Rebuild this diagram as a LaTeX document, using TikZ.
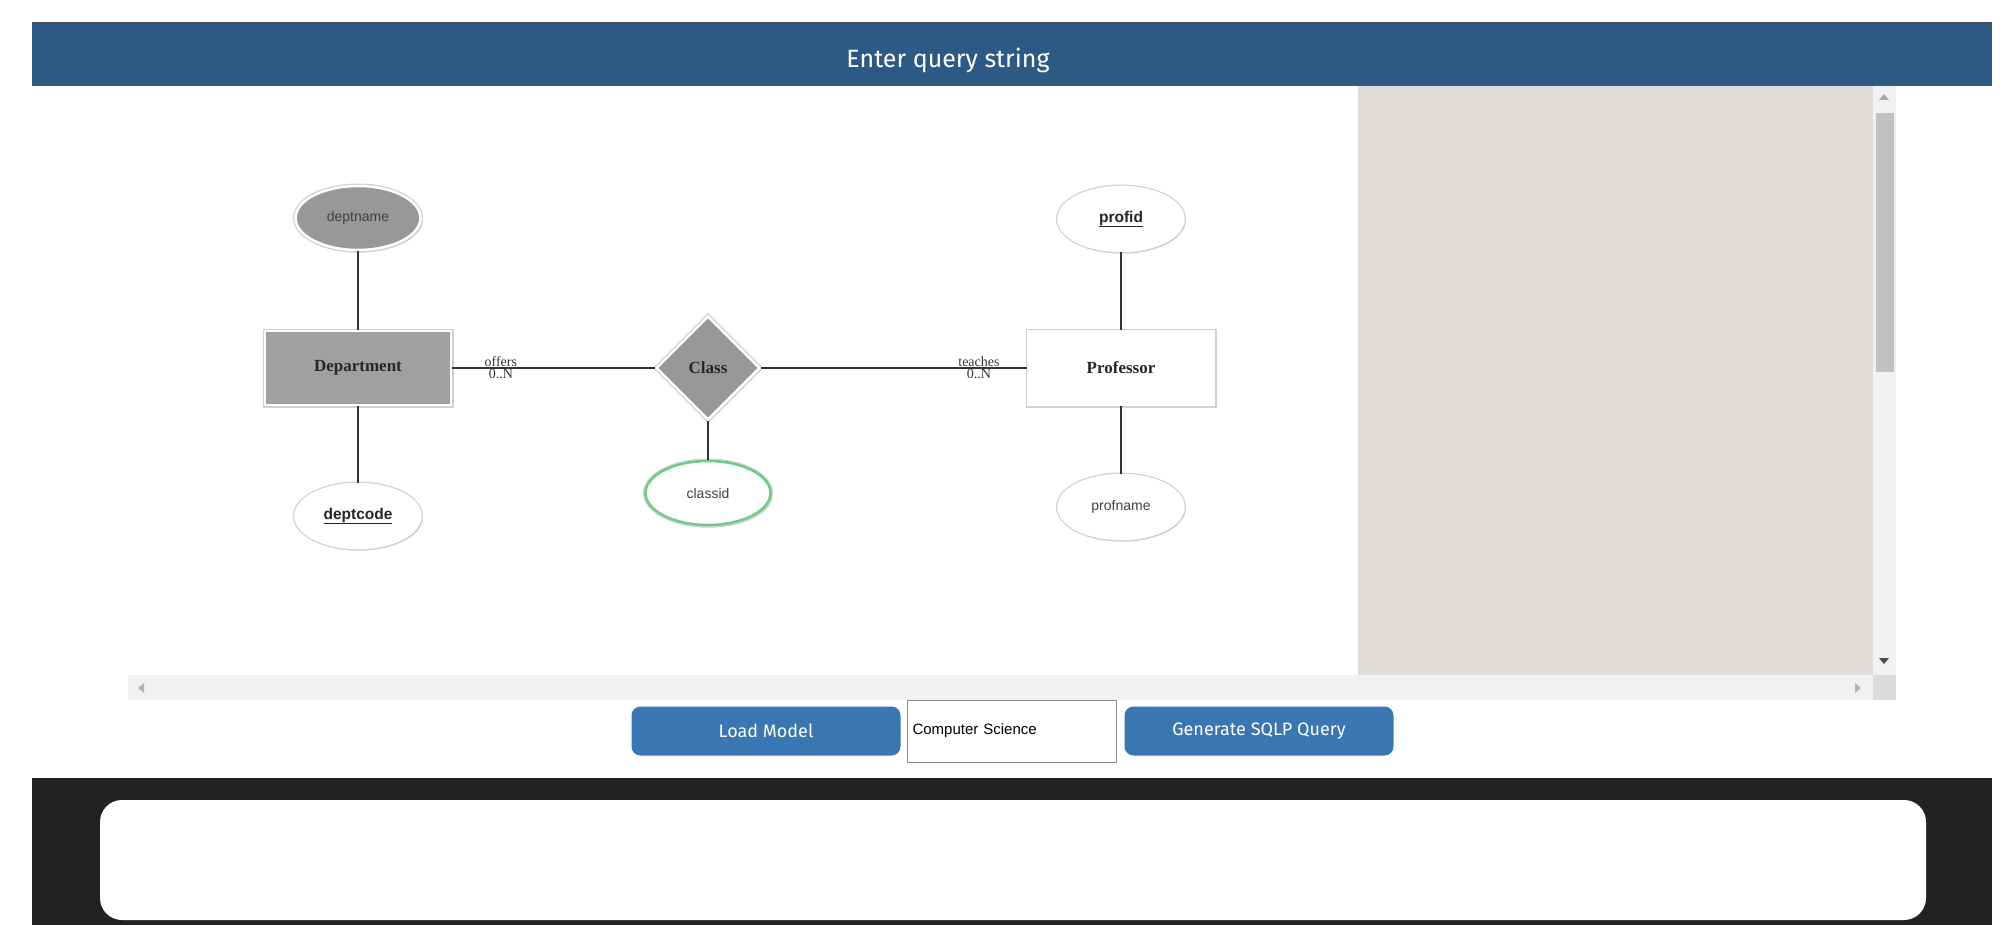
\documentclass[tikz,border=0pt]{standalone}
\usepackage{fontspec}
\setmainfont{Liberation Serif}
\setsansfont{Liberation Sans}
\newfontfamily\uifont{Fira Sans}
\usetikzlibrary{shapes.geometric,shadows}

\definecolor{headblue}{RGB}{44,90,132}
\definecolor{btnblue}{RGB}{58,118,178}
\definecolor{panelgray}{RGB}{223,220,217}
\definecolor{trackgray}{RGB}{241,241,241}
\definecolor{thumbgray}{RGB}{193,193,193}
\definecolor{footdark}{RGB}{34,34,34}
\definecolor{entgray}{RGB}{160,160,160}
\definecolor{attrgray}{RGB}{152,152,152}
\definecolor{keygreen}{RGB}{110,205,130}

\begin{document}
\begin{tikzpicture}[x=1pt,y=-1pt,
    shade/.style={general shadow={fill=black!25,shadow scale=1.02,shadow xshift=.8pt,shadow yshift=-1.8pt},
        preaction={draw=black!18,line width=5pt}},
    entity/.style={rectangle,draw=white,line width=2.5pt,shade,minimum width=186pt,minimum height=74pt,
        font=\fontsize{17}{20}\selectfont\bfseries,text=black!85},
    relship/.style={diamond,aspect=1,draw=white,line width=2.5pt,shade,fill=attrgray,minimum width=104pt,
        minimum height=104pt,inner sep=0pt,font=\fontsize{17}{20}\selectfont\bfseries,text=black!85},
    attr/.style={ellipse,draw=white,line width=2.5pt,fill=white,shade,minimum width=125pt,minimum height=64pt,
        font=\sffamily\fontsize{14}{16}\selectfont,text=black!75},
    keyattr/.style={attr,font=\sffamily\bfseries\fontsize{15.5}{18}\selectfont,text=black!85},
    link/.style={draw=black!80,line width=1.2pt},
    card/.style={font=\fontsize{14}{14}\selectfont,text=black!80,inner sep=1pt},
    btn/.style={rounded corners=9pt,fill=btnblue,minimum width=269pt,minimum height=49pt,
        text=white,font=\uifont\fontsize{18}{20}\selectfont}]
\useasboundingbox (0,0) rectangle (2009,925);
\fill[white] (0,0) rectangle (2009,925);

% title bar
\fill[headblue] (32,23) rectangle (1992,86);
\draw[black!70,line width=2pt] (32,23) -- (1992,23);
\node[text=white,font=\uifont\fontsize{25}{28}\selectfont] (title) at (948,60) {Enter query string};

% side panel and scroll bars
\fill[panelgray] (1358,86) rectangle (1873,675);
\fill[trackgray] (128,675) rectangle (1873,700);
\fill[trackgray] (1873,86) rectangle (1896,675);
\fill[black!14] (1873,675) rectangle (1896,700);
\fill[thumbgray] (1876,113) rectangle (1894,372);
\fill[black!35] (1879,100) -- (1889,100) -- (1884,94) -- cycle;
\fill[black!70] (1879,658) -- (1889,658) -- (1884,664) -- cycle;
\fill[black!30] (144,683) -- (144,693) -- (138,688) -- cycle;
\fill[black!30] (1855,683) -- (1855,693) -- (1861,688) -- cycle;

% er model
\node[attr,fill=attrgray] (deptname) at (358,218) {deptname};
\node[entity,fill=entgray] (dept) at (358,368) {Department};
\node[keyattr] (deptcode) at (358,516) {\underline{deptcode}};
\node[relship] (cls) at (708,368) {Class};
\node[attr,draw=keygreen] (classid) at (708,493) {classid};
\node[keyattr] (profid) at (1121,219) {\underline{profid}};
\node[entity,fill=white] (prof) at (1121,368) {Professor};
\node[attr] (profname) at (1121,507) {profname};

\path[link] (deptname) edge (dept);
\path[link] (dept) edge (deptcode);
\path[link] (cls) edge (classid);
\path[link] (profid) edge (prof);
\path[link] (prof) edge (profname);
\path[link] (dept) edge node[pos=.24,above,card] {offers} node[pos=.24,below,card] {0..N} (cls);
\path[link] (cls) edge node[pos=.82,above,card] {teaches} node[pos=.82,below,card] {0..N} (prof);

% buttons
\node[btn] (load) at (766,731) {Load Model};
\node[draw=black!45,fill=white,minimum height=62pt,text width=199pt,inner sep=5pt,align=left,
    font=\sffamily\fontsize{15}{18}\selectfont] (dbname) at (1012,731) {Computer Science};
\node[btn] (gen) at (1259,731) {Generate SQLP Query};

% output area
\fill[footdark] (32,778) rectangle (1992,925);
\fill[white,rounded corners=22pt] (100,800) rectangle (1926,920);
\end{tikzpicture}
\end{document}
